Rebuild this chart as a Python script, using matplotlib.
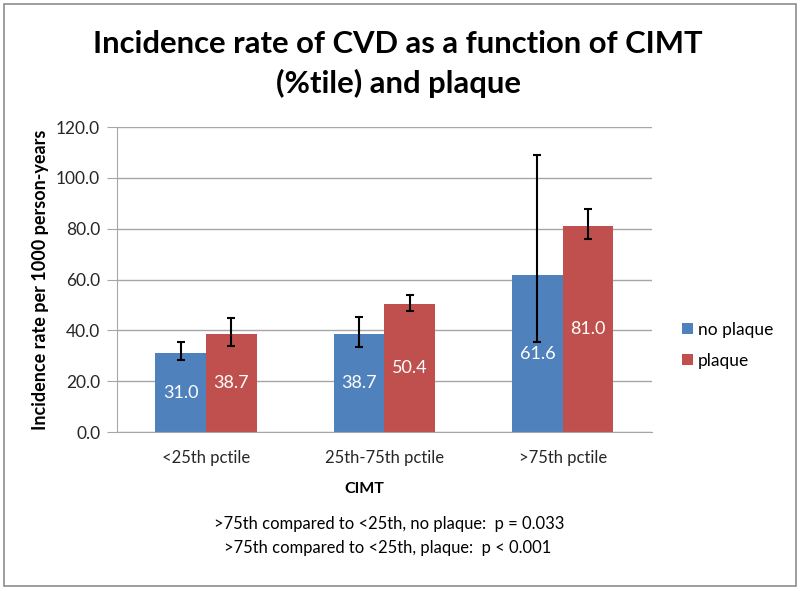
# incidence rate of CVD by CIMT percentile and plaque, bar chart with CI error bars
import numpy as np
import matplotlib
matplotlib.use("Agg")
import matplotlib.pyplot as plt
from matplotlib.patches import Rectangle

plt.rcParams['font.family'] = ['Lato', 'DejaVu Sans']

categories = ["<25th pctile", "25th-75th pctile", ">75th pctile"]
no_plaque = [31.0, 38.7, 61.6]
no_plaque_lo = [28.2, 33.3, 35.3]
no_plaque_hi = [35.3, 45.3, 109.1]
plaque = [38.7, 50.4, 81.0]
plaque_lo = [34.0, 47.8, 76.1]
plaque_hi = [44.9, 53.8, 87.6]
y_ticks = [0, 20, 40, 60, 80, 100, 120]
notes = [">75th compared to <25th, no plaque:  p = 0.033",
         ">75th compared to <25th, plaque:  p < 0.001"]

blue = "#4F81BD"
red = "#C0504D"
grid_col = "#A6A6A6"

fig = plt.figure(figsize=(8.0, 5.91), dpi=100)
ax = fig.add_axes([0.146, 0.269, 0.669, 0.516])

x = np.arange(len(categories))
w = 0.284

err_np = [np.array(no_plaque) - np.array(no_plaque_lo), np.array(no_plaque_hi) - np.array(no_plaque)]
err_p = [np.array(plaque) - np.array(plaque_lo), np.array(plaque_hi) - np.array(plaque)]

b1 = ax.bar(x - w / 2, no_plaque, w, color=blue, label="no plaque", zorder=2)
b2 = ax.bar(x + w / 2, plaque, w, color=red, label="plaque", zorder=2)
ax.errorbar(x - w / 2, no_plaque, yerr=err_np, fmt='none', ecolor='black',
            elinewidth=1.5, capsize=3, capthick=1.5, zorder=3)
ax.errorbar(x + w / 2, plaque, yerr=err_p, fmt='none', ecolor='black',
            elinewidth=1.5, capsize=3, capthick=1.5, zorder=3)

for bars in (b1, b2):
    ax.bar_label(bars, labels=["%.1f" % b.get_height() for b in bars],
                 label_type='center', color='white', fontsize=13, zorder=4)

ax.set_xlim(-0.5, 2.5)
ax.set_ylim(0, 120)
ax.set_yticks(y_ticks)
ax.set_yticklabels(["%.1f" % t for t in y_ticks], fontsize=12.5, color="#262626")
ax.set_xticks(x)
ax.set_xticklabels(categories, fontsize=12, color="#262626")
ax.tick_params(axis='x', length=0, pad=13)
ax.tick_params(axis='y', length=7, color=grid_col, pad=5)
ax.yaxis.grid(True, color=grid_col, linewidth=1, zorder=0)
ax.set_axisbelow(True)
for s in ("top", "right"):
    ax.spines[s].set_visible(False)
for s in ("left", "bottom"):
    ax.spines[s].set_color(grid_col)

ax.set_ylabel("Incidence rate per 1000 person-years", fontsize=13, fontweight='bold', labelpad=5)

leg = ax.legend(loc='center left', bbox_to_anchor=(0.8525, 0.416), bbox_transform=fig.transFigure,
                frameon=False, fontsize=12.5, borderpad=0, borderaxespad=0,
                handlelength=0.63, handleheight=0.63, handletextpad=0.3, labelspacing=0.85)

fig.text(0.4975, 1 - 52.7 / 591, "Incidence rate of CVD as a function of CIMT", ha='center',
         va='baseline', fontsize=22.3, fontweight='bold')
fig.text(0.4975, 1 - 92.5 / 591, "(%tile) and plaque", ha='center', va='baseline',
         fontsize=22.3, fontweight='bold')
fig.text(0.456, 1 - 489 / 591, "CIMT", ha='center', va='center', fontsize=11.5, fontweight='bold')
fig.text(0.487, 1 - 524 / 591, notes[0], ha='center', va='center', fontsize=11.9)
fig.text(0.484, 1 - 548 / 591, notes[1], ha='center', va='center', fontsize=11.9)

fig.patches.append(Rectangle((0.005, 0.008), 0.99, 0.985, transform=fig.transFigure,
                             fill=False, edgecolor="#8C8C8C", linewidth=1.2))

fig.savefig("out.png", dpi=100)
